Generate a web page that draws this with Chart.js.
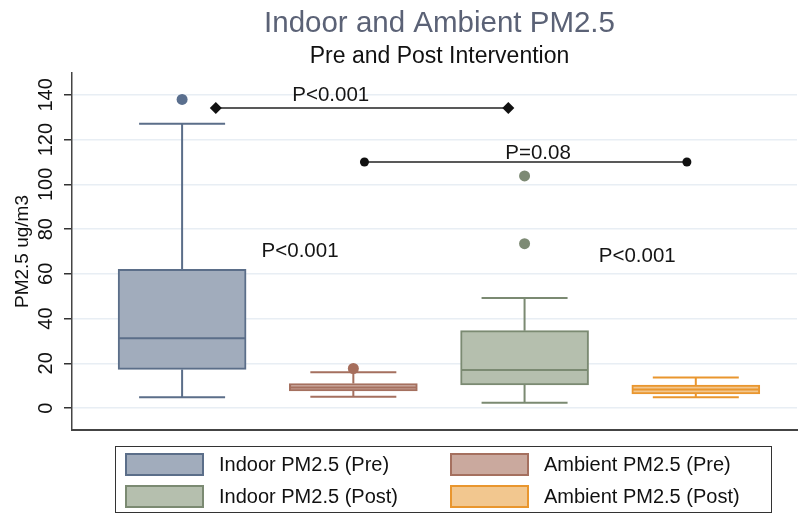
<!DOCTYPE html>
<html>
<head>
<meta charset="utf-8">
<script src="https://cdn.jsdelivr.net/npm/chart.js@4.4.1/dist/chart.umd.min.js"></script>
<style>
body{margin:0;background:#fff;}
#wrap{position:relative;width:803px;height:515px;}
#c{position:absolute;left:0;top:0;}
#legend{position:absolute;left:115px;top:446px;width:655px;height:63px;border:1px solid #333;padding-top:2px;
  display:flex;flex-wrap:wrap;font-family:"Liberation Sans",Arial,sans-serif;font-size:20px;color:#111;}
.item{width:325px;height:31px;display:flex;align-items:center;}
.sw{width:75px;height:19px;margin-left:9px;border:2px solid;}
.item span{margin-left:15px;}
</style>
</head>
<body>
<div id="wrap">
  <canvas id="c" width="803" height="515"></canvas>
  <div id="legend"></div>
</div>
<script>
// titles
var chartTitle = 'Indoor and Ambient PM2.5';
var chartSubtitle = 'Pre and Post Intervention';
var yTitle = 'PM2.5 ug/m3';
var yTicks = [0, 20, 40, 60, 80, 100, 120, 140];

// box plot groups (x position = group number)
var groups = ['Indoor PM2.5 (Pre)', 'Ambient PM2.5 (Pre)', 'Indoor PM2.5 (Post)', 'Ambient PM2.5 (Post)'];
var groupX = [1, 2, 3, 4];
var whiskerLow = [4.8, 5.1, 2.4, 4.8];
var q1 = [17.3, 7.7, 10.3, 6.3];
var median = [31.2, 9.2, 17.0, 8.3];
var q3 = [62.0, 11.0, 34.6, 10.3];
var whiskerHigh = [127.1, 16.0, 49.2, 13.7];

// outside values
var outlierX = [1, 2, 3, 3];
var outlierY = [138.0, 17.7, 103.8, 73.5];

// comparison lines
var bracket1X = [1.197, 2.905];
var bracket1Y = [134.2, 134.2];
var bracket2X = [2.065, 3.948];
var bracket2Y = [110.0, 110.0];

// p-value labels
var pText = ['P<0.001', 'P=0.08', 'P<0.001', 'P<0.001'];
var pX = [1.868, 3.079, 1.689, 3.658];
var pY = [139.8, 113.8, 70.2, 68.0];

var fillColors = ['#a1acbc', '#caa99e', '#b5bfae', '#f2c78f'];
var lineColors = ['#5b6e89', '#a5705f', '#7b8a72', '#e9962e'];
var dotColors = ['#5a6f8e', '#a66e5c', '#7d8a74', '#e9962e'];
var FONT = '"Liberation Sans", Arial, sans-serif';

// legend (html)
var legendHtml = '';
for (var i = 0; i < groups.length; i++) {
	legendHtml += '<div class="item"><div class="sw" style="background:' + fillColors[i] + ';border-color:' + lineColors[i] + '"></div><span>' + groups[i] + '</span></div>';
}
document.getElementById('legend').innerHTML = legendHtml;

var capHalf = 43;
var boxHalf = 63;

var whiskers = {
	id: 'whiskers',
	beforeDatasetsDraw: function(chart) {
		var ctx = chart.ctx, x = chart.scales.x, y = chart.scales.y;
		ctx.save();
		ctx.lineWidth = 2;
		groupX.forEach(function(gx, i) {
			var cx = x.getPixelForValue(gx);
			var hi = y.getPixelForValue(whiskerHigh[i]);
			var lo = y.getPixelForValue(whiskerLow[i]);
			ctx.strokeStyle = lineColors[i];
			ctx.beginPath();
			ctx.moveTo(cx, y.getPixelForValue(q3[i])); ctx.lineTo(cx, hi);
			ctx.moveTo(cx, y.getPixelForValue(q1[i])); ctx.lineTo(cx, lo);
			ctx.moveTo(cx - capHalf, hi); ctx.lineTo(cx + capHalf, hi);
			ctx.moveTo(cx - capHalf, lo); ctx.lineTo(cx + capHalf, lo);
			ctx.stroke();
		});
		ctx.restore();
	},
	afterDatasetsDraw: function(chart) {
		var ctx = chart.ctx, x = chart.scales.x, y = chart.scales.y;
		ctx.save();
		ctx.lineWidth = 2;
		groupX.forEach(function(gx, i) {
			var cx = x.getPixelForValue(gx);
			var m = y.getPixelForValue(median[i]);
			ctx.strokeStyle = lineColors[i];
			ctx.beginPath();
			ctx.moveTo(cx - boxHalf, m); ctx.lineTo(cx + boxHalf, m);
			ctx.stroke();
		});
		// p values
		ctx.fillStyle = '#151515';
		ctx.font = '20.5px ' + FONT;
		ctx.textAlign = 'center';
		ctx.textBaseline = 'middle';
		pText.forEach(function(t, i) {
			ctx.fillText(t, x.getPixelForValue(pX[i]), y.getPixelForValue(pY[i]));
		});
		ctx.restore();
	},
	afterDraw: function(chart) {
		var ctx = chart.ctx, a = chart.chartArea;
		var mid = (a.left + a.right) / 2 + 5;
		ctx.save();
		ctx.textAlign = 'center';
		ctx.fillStyle = '#5b6276';
		ctx.font = '29.5px ' + FONT;
		ctx.fillText(chartTitle, mid, 32);
		ctx.fillStyle = '#111';
		ctx.font = '23px ' + FONT;
		ctx.fillText(chartSubtitle, mid, 63);
		ctx.restore();
	}
};

new Chart(document.getElementById('c'), {
	type: 'bar',
	data: {
		datasets: [{
			type: 'bar',
			data: groupX.map(function(gx, i) { return {x: gx, y: [q1[i], q3[i]]}; }),
			backgroundColor: fillColors,
			borderColor: lineColors,
			borderWidth: 2,
			borderSkipped: false,
			barThickness: 128,
			order: 3
		}, {
			type: 'scatter',
			data: outlierX.map(function(v, i) { return {x: v, y: outlierY[i]}; }),
			pointBackgroundColor: outlierX.map(function(v) { return dotColors[v - 1]; }),
			pointBorderWidth: 0,
			pointRadius: 5.5,
			order: 1
		}, {
			type: 'line',
			data: bracket1X.map(function(v, i) { return {x: v, y: bracket1Y[i]}; }),
			borderColor: '#222',
			borderWidth: 1.5,
			pointStyle: 'rectRot',
			pointRadius: 6,
			pointBackgroundColor: '#111',
			pointBorderWidth: 0,
			fill: false,
			order: 1
		}, {
			type: 'line',
			data: bracket2X.map(function(v, i) { return {x: v, y: bracket2Y[i]}; }),
			borderColor: '#222',
			borderWidth: 1.5,
			pointStyle: 'circle',
			pointRadius: 4.5,
			pointBackgroundColor: '#111',
			pointBorderWidth: 0,
			fill: false,
			order: 1
		}]
	},
	options: {
		responsive: false,
		animation: false,
		devicePixelRatio: 1,
		layout: {padding: {top: 73, bottom: 85, left: 0, right: 0}},
		plugins: {legend: {display: false}, tooltip: {enabled: false}},
		scales: {
			x: {
				type: 'linear', min: 0.357, max: 4.591, offset: false,
				ticks: {display: false},
				grid: {display: false},
				border: {color: '#444', width: 2},
				afterFit: function(s) { s.height = 0; }
			},
			y: {
				type: 'linear', min: -9.8, max: 149.8,
				afterBuildTicks: function(s) { s.ticks = yTicks.map(function(v) { return {value: v}; }); },
				afterFit: function(s) { s.width = 72; },
				ticks: {minRotation: 90, maxRotation: 90, crossAlign: 'center', padding: 1,
					font: {size: 20, family: FONT}, color: '#111'},
				grid: {color: '#e8eef4', lineWidth: 1.5, tickLength: 8, tickColor: '#333'},
				border: {color: '#444', width: 1.5},
				title: {display: true, text: yTitle, color: '#111', font: {size: 19, family: FONT}, padding: {top: 11}}
			}
		}
	},
	plugins: [whiskers]
});
</script>
</body>
</html>
